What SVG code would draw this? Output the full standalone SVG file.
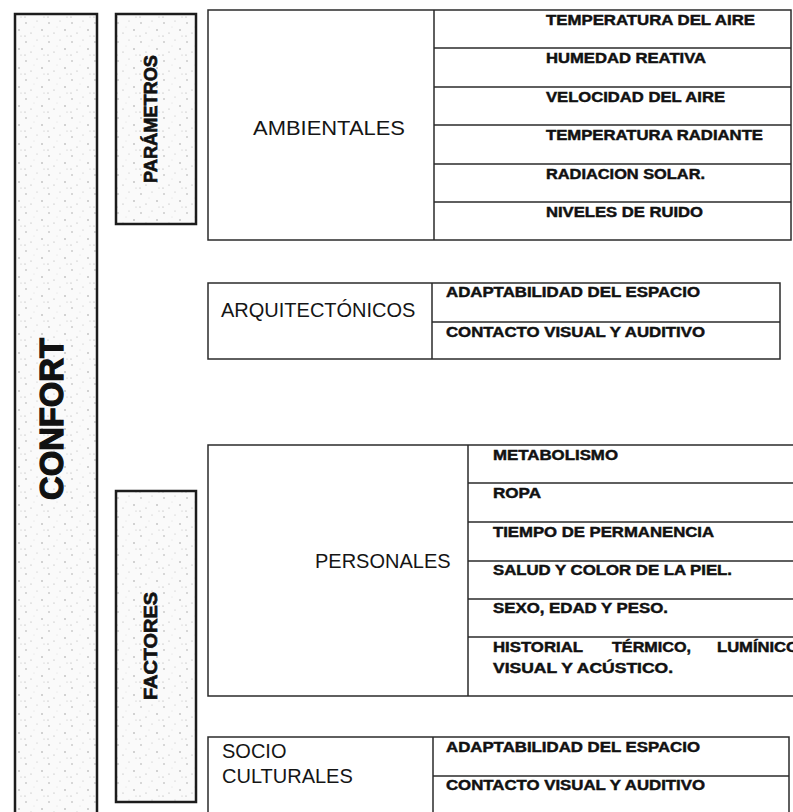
<svg xmlns="http://www.w3.org/2000/svg" width="793" height="812" viewBox="0 0 793 812">
  <style>
    .frame { fill: none; stroke: #2b2b2b; stroke-width: 1.5; }
    .band { fill: url(#speck); stroke: #1c1c1c; stroke-width: 2.5; }
    .lbl { font-family: "Liberation Sans", Arial, sans-serif; font-size: 20px; fill: #151515; }
    .item { font-family: "Liberation Sans", Arial, sans-serif; font-size: 14px; font-weight: bold; fill: #111; stroke: #111; stroke-width: 0.45; }
    .vt { font-family: "Liberation Sans", Arial, sans-serif; font-weight: bold; fill: #111; stroke: #111; text-anchor: middle; }
  </style>
  <defs>
    <!-- light grain used inside the vertical title bands -->
    <pattern id="speck" width="23" height="19" patternUnits="userSpaceOnUse">
      <rect width="23" height="19" fill="#fafafa"/>
      <circle cx="3" cy="4" r="0.7" fill="#9a9a9a"/>
      <circle cx="14" cy="2" r="0.5" fill="#b0b0b0"/>
      <circle cx="19" cy="11" r="0.8" fill="#a0a0a0"/>
      <circle cx="8" cy="14" r="0.6" fill="#a8a8a8"/>
      <circle cx="11" cy="8" r="0.4" fill="#bcbcbc"/>
      <circle cx="21" cy="17" r="0.5" fill="#b4b4b4"/>
      <circle cx="2" cy="17" r="0.6" fill="#a4a4a4"/>
    </pattern>
  </defs>

  <!-- vertical title bands -->
  <g id="confort">
    <rect class="band" x="15" y="14" width="82" height="820"/>
    <text class="vt" font-size="33" stroke-width="1.3" textLength="162" lengthAdjust="spacingAndGlyphs" transform="translate(63 419) rotate(-90)">CONFORT</text>
  </g>
  <g id="parametros">
    <rect class="band" x="116" y="14" width="80" height="210"/>
    <text class="vt" font-size="19" stroke-width="0.7" textLength="128" lengthAdjust="spacingAndGlyphs" transform="translate(157 119) rotate(-90)">PARÁMETROS</text>
  </g>
  <g id="factores">
    <rect class="band" x="116" y="491" width="80" height="311"/>
    <text class="vt" font-size="19" stroke-width="0.7" textLength="108" lengthAdjust="spacingAndGlyphs" transform="translate(157 646) rotate(-90)">FACTORES</text>
  </g>

  <!-- environmental parameters -->
  <g id="ambientales">
    <rect class="frame" x="208" y="10" width="583" height="230"/>
    <path class="frame" d="M434 10V240M434 48H791M434 87H791M434 125H791M434 164H791M434 202H791"/>
    <text class="lbl" x="253" y="135" textLength="152" lengthAdjust="spacingAndGlyphs">AMBIENTALES</text>
    <text class="item" x="546" y="25" textLength="209" lengthAdjust="spacingAndGlyphs">TEMPERATURA DEL AIRE</text>
    <text class="item" x="546" y="63" textLength="160" lengthAdjust="spacingAndGlyphs">HUMEDAD REATIVA</text>
    <text class="item" x="546" y="102" textLength="179" lengthAdjust="spacingAndGlyphs">VELOCIDAD DEL AIRE</text>
    <text class="item" x="546" y="140" textLength="217" lengthAdjust="spacingAndGlyphs">TEMPERATURA RADIANTE</text>
    <text class="item" x="546" y="179" textLength="159" lengthAdjust="spacingAndGlyphs">RADIACION SOLAR.</text>
    <text class="item" x="546" y="217" textLength="157" lengthAdjust="spacingAndGlyphs">NIVELES DE RUIDO</text>
  </g>

  <!-- architectural parameters -->
  <g id="arquitectonicos">
    <rect class="frame" x="208" y="283" width="572" height="76"/>
    <path class="frame" d="M432 283V359M432 322H780"/>
    <text class="lbl" x="221" y="317">ARQUITECTÓNICOS</text>
    <text class="item" x="446" y="297" textLength="254" lengthAdjust="spacingAndGlyphs">ADAPTABILIDAD DEL ESPACIO</text>
    <text class="item" x="446" y="337" textLength="259" lengthAdjust="spacingAndGlyphs">CONTACTO VISUAL Y AUDITIVO</text>
  </g>

  <!-- personal factors -->
  <g id="personales">
    <path class="frame" d="M800 445H208V696H800M468 445V696M468 483H800M468 522H800M468 561H800M468 599H800M468 637H800"/>
    <text class="lbl" x="315" y="568">PERSONALES</text>
    <text class="item" x="493" y="460" textLength="125" lengthAdjust="spacingAndGlyphs">METABOLISMO</text>
    <text class="item" x="493" y="498" textLength="48" lengthAdjust="spacingAndGlyphs">ROPA</text>
    <text class="item" x="493" y="537" textLength="221" lengthAdjust="spacingAndGlyphs">TIEMPO DE PERMANENCIA</text>
    <text class="item" x="493" y="575" textLength="239" lengthAdjust="spacingAndGlyphs">SALUD Y COLOR DE LA PIEL.</text>
    <text class="item" x="493" y="613" textLength="175" lengthAdjust="spacingAndGlyphs">SEXO, EDAD Y PESO.</text>
    <text class="item" x="493" y="652" textLength="90" lengthAdjust="spacingAndGlyphs">HISTORIAL</text>
    <text class="item" x="612" y="652" textLength="79" lengthAdjust="spacingAndGlyphs">TÉRMICO,</text>
    <text class="item" x="717" y="652" textLength="82" lengthAdjust="spacingAndGlyphs">LUMÍNICO</text>
    <text class="item" x="493" y="673" textLength="180" lengthAdjust="spacingAndGlyphs">VISUAL Y ACÚSTICO.</text>
  </g>

  <!-- socio-cultural factors -->
  <g id="socioculturales">
    <path class="frame" d="M208 830V737H789V830M433 737V830M433 776H789"/>
    <text class="lbl" x="222" y="758">SOCIO</text>
    <text class="lbl" x="222" y="783">CULTURALES</text>
    <text class="item" x="446" y="752" textLength="254" lengthAdjust="spacingAndGlyphs">ADAPTABILIDAD DEL ESPACIO</text>
    <text class="item" x="446" y="790" textLength="259" lengthAdjust="spacingAndGlyphs">CONTACTO VISUAL Y AUDITIVO</text>
  </g>
</svg>
